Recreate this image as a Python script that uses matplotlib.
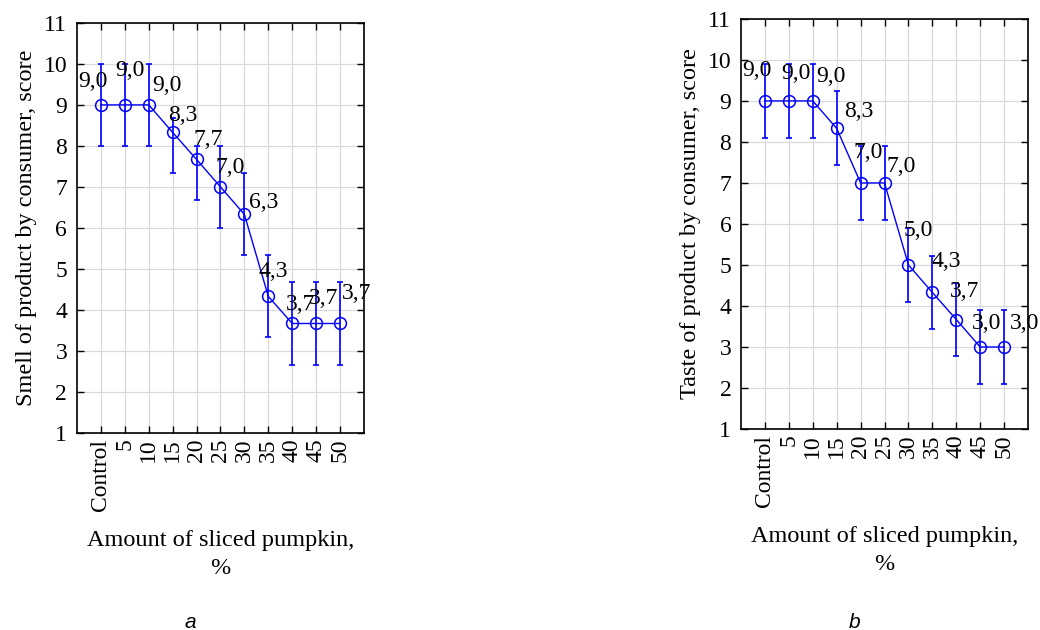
import matplotlib
matplotlib.use('Agg')
import matplotlib.pyplot as plt
import numpy as np

plt.rcParams['font.family'] = ['Liberation Serif', 'DejaVu Serif']

# data
categories = ['Control', '5', '10', '15', '20', '25', '30', '35', '40', '45', '50']

smell_mean = [9.0, 9.0, 9.0, 8.33, 7.67, 7.0, 6.33, 4.33, 3.67, 3.67, 3.67]
smell_low = [8.0, 8.0, 8.0, 7.33, 6.67, 6.0, 5.33, 3.33, 2.67, 2.67, 2.67]
smell_high = [10.0, 10.0, 10.0, 8.67, 8.0, 8.0, 7.33, 5.33, 4.67, 4.67, 4.67]

taste_mean = [9.0, 9.0, 9.0, 8.33, 7.0, 7.0, 5.0, 4.33, 3.67, 3.0, 3.0]
taste_low = [8.1, 8.1, 8.1, 7.43, 6.1, 6.1, 4.1, 3.43, 2.77, 2.1, 2.1]
taste_high = [9.9, 9.9, 9.9, 9.23, 7.9, 7.9, 5.9, 5.23, 4.57, 3.9, 3.9]

# label offsets in pixels (styling only)
smell_offs = [(-8, 23), (5, 34), (18, 19), (10, 17), (12, 20), (10, 19),
              (19, 12), (5, 25), (8, 19), (7, 25), (16, 30)]
taste_offs = [(-8, 30), (7, 27), (18, 24), (22, 17), (8, 30), (17, 16),
              (10, 34), (14, 31), (8, 28), (6, 24), (20, 24)]

fig = plt.figure(figsize=(10.4, 6.3), dpi=100)
ax1 = fig.add_axes([0.074, 0.3127, 0.276, 0.651])
ax2 = fig.add_axes([0.7125, 0.319, 0.276, 0.651])

panels = [
    (ax1, smell_mean, smell_low, smell_high, smell_offs, 'Smell of product by consumer, score', 'a'),
    (ax2, taste_mean, taste_low, taste_high, taste_offs, 'Taste of product by consumer, score', 'b'),
]

for ax, mean, low, high, offs, ylab, letter in panels:
    x = np.arange(len(categories))
    mean = np.array(mean)
    yerr = [mean - np.array(low), np.array(high) - mean]
    ax.errorbar(x, mean, yerr=yerr, fmt='none', ecolor='#0000ff', elinewidth=1.2,
                capsize=2, capthick=1.2, zorder=3)
    ax.plot(x, mean, color='#0000ff', linewidth=1, marker='o', markersize=8.5,
            markerfacecolor='none', markeredgewidth=1.1, zorder=4)
    for xi, yi, (dx, dy) in zip(x, mean, offs):
        ax.annotate(f'{yi:.1f}'.replace('.', ','), (xi, yi), xytext=(dx, dy),
                    textcoords='offset pixels', ha='center', va='center',
                    fontsize=17, zorder=5)
    ax.set_xlim(-1, 11)
    ax.set_ylim(1, 11)
    ax.set_yticks(range(1, 12))
    ax.set_xticks(x)
    ax.set_xticklabels(categories, rotation=90, fontsize=17)
    ax.tick_params(axis='y', labelsize=17, pad=7)
    ax.tick_params(axis='x', pad=4)
    ax.tick_params(direction='in', length=5, width=1, top=True, right=True)
    ax.grid(True, color='#d9d9d9', linewidth=0.9)
    ax.set_axisbelow(True)
    for s in ax.spines.values():
        s.set_linewidth(1.2)
    ax.set_ylabel(ylab, fontsize=17.5, labelpad=5)
    ax.set_xlabel('Amount of sliced pumpkin,\n%', fontsize=17.5, labelpad=14,
                  linespacing=1.45)

fig.text(190 / 1040, 1 - 622 / 630, 'a', fontsize=15, style='italic',
         family='Liberation Sans', ha='center', va='center')
fig.text(855 / 1040, 1 - 622 / 630, 'b', fontsize=15, style='italic',
         family='Liberation Sans', ha='center', va='center')

plt.savefig('out.png', dpi=100)
plt.close()
